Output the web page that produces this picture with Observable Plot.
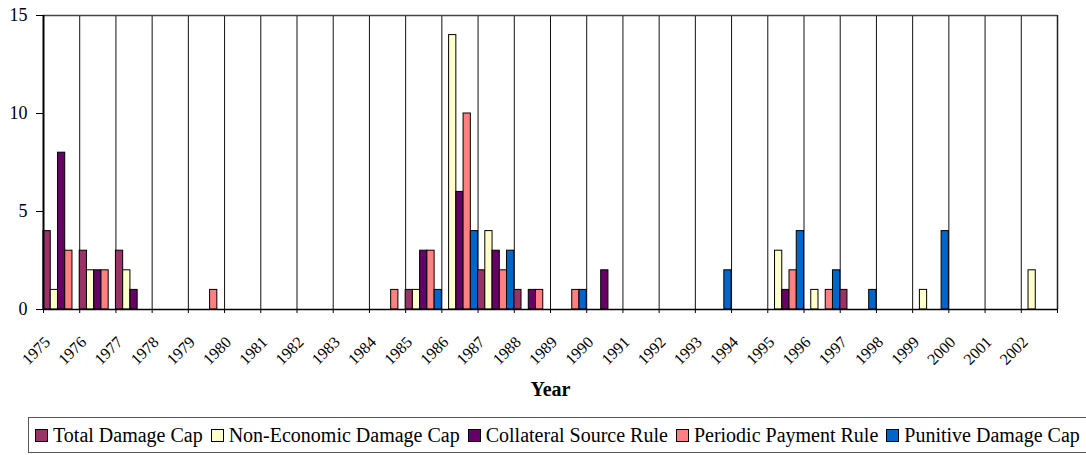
<!DOCTYPE html>
<html>
<head>
<meta charset="utf-8">
<script src="https://cdn.jsdelivr.net/npm/d3@7"></script>
<script src="https://cdn.jsdelivr.net/npm/@observablehq/plot@0.6"></script>
<style>
  body { margin: 0; background: #fff; font-family: 'Liberation Serif', 'Times New Roman', 'DejaVu Serif', serif; }
  #legend {
    margin-left: 28px; margin-top: 5px; width: 1070px; height: 36px;
    border: 1px solid #555; box-sizing: border-box;
    display: flex; align-items: center; padding-left: 6px;
    font-size: 20px; white-space: nowrap; color: #000;
    font-family: 'Liberation Serif', 'Times New Roman', 'DejaVu Serif', serif;
  }
  .item { display: flex; align-items: center; margin-right: 8px; }
  .sw { width: 11px; height: 11px; border: 1px solid #000; margin-right: 5px; }
</style>
</head>
<body>
<div id="chart"></div>
<div id="legend"></div>
<script>
const years = [1975,1976,1977,1978,1979,1980,1981,1982,1983,1984,1985,1986,1987,1988,1989,1990,1991,1992,1993,1994,1995,1996,1997,1998,1999,2000,2001,2002];
const seriesNames = ["Total Damage Cap","Non-Economic Damage Cap","Collateral Source Rule","Periodic Payment Rule","Punitive Damage Cap"];
const seriesColors = ["#993366","#FFFFCC","#660066","#FF8080","#0066CC"];
//                      75 76 77 78 79 80 81 82 83 84 85 86 87 88 89 90 91 92 93 94 95 96 97 98 99 00 01 02
const totalDamageCap  = [4, 3, 3, 0, 0, 0, 0, 0, 0, 0, 1, 0, 2, 1, 0, 0, 0, 0, 0, 0, 0, 0, 1, 0, 0, 0, 0, 0];
const nonEconomicCap  = [1, 2, 2, 0, 0, 0, 0, 0, 0, 0, 1,14, 4, 0, 0, 0, 0, 0, 0, 0, 3, 1, 0, 0, 1, 0, 0, 2];
const collateralRule  = [8, 2, 1, 0, 0, 0, 0, 0, 0, 0, 3, 6, 3, 1, 0, 2, 0, 0, 0, 0, 1, 0, 0, 0, 0, 0, 0, 0];
const periodicPayment = [3, 2, 0, 0, 1, 0, 0, 0, 0, 1, 3,10, 2, 1, 1, 0, 0, 0, 0, 0, 2, 1, 0, 0, 0, 0, 0, 0];
const punitiveCap     = [0, 0, 0, 0, 0, 0, 0, 0, 0, 0, 1, 4, 3, 0, 1, 0, 0, 0, 2, 0, 4, 2, 1, 0, 4, 0, 0, 0];
const yTicks = [0, 5, 10, 15];

const seriesValues = [totalDamageCap, nonEconomicCap, collateralRule, periodicPayment, punitiveCap];
const data = [];
seriesValues.forEach((vals, s) => {
  vals.forEach((v, i) => {
    if (v > 0) data.push({year: years[i], s, series: seriesNames[s], value: v});
  });
});
const boundaries = [...years, years[years.length - 1] + 1];
const font = "'Liberation Serif', 'Times New Roman', 'DejaVu Serif', serif";

const chart = Plot.plot({
  width: 1086,
  height: 412,
  marginLeft: 43,
  marginRight: 29,
  marginTop: 15,
  marginBottom: 103,
  style: {fontFamily: font, background: "#fff", color: "#000"},
  x: {type: "linear", domain: [boundaries[0], boundaries[boundaries.length - 1]]},
  y: {domain: [0, 15]},
  color: {domain: seriesNames, range: seriesColors},
  marks: [
    Plot.ruleX(boundaries.slice(1, -1), {y1: 0, y2: 15, stroke: "#111", strokeWidth: 1}),
    Plot.rectY(data, {
      x1: d => d.year + d.s / 5,
      x2: d => d.year + (d.s + 1) / 5,
      y: "value",
      fill: "series",
      stroke: "#000",
      strokeWidth: 1
    }),
    Plot.ruleY([15], {stroke: "#444", strokeWidth: 1.5}),
    Plot.ruleX([boundaries[boundaries.length - 1]], {y1: 0, y2: 15, stroke: "#222", strokeWidth: 1.5}),
    Plot.ruleX([boundaries[0]], {y1: 0, y2: 15, stroke: "#000", strokeWidth: 2}),
    Plot.ruleY([0], {stroke: "#000", strokeWidth: 1.5}),
    Plot.axisY({ticks: yTicks, tickSize: 7, tickPadding: 9, fontSize: 18, fontFamily: font, label: null, tickFormat: d => String(d)}),
    Plot.axisX({ticks: boundaries, tickSize: 4, tickFormat: () => "", label: null}),
    Plot.text(years, {
      x: d => d, frameAnchor: "bottom", text: d => String(d),
      rotate: -45, textAnchor: "end", lineAnchor: "middle",
      dx: 4, dy: 30, fontSize: 16, fontFamily: font, fill: "#000"
    }),
    Plot.text(["Year"], {frameAnchor: "bottom", dy: 86, fontSize: 20, fontWeight: "bold", fontFamily: font, text: d => d})
  ]
});
document.getElementById("chart").appendChild(chart);

const legend = document.getElementById("legend");
seriesNames.forEach((name, i) => {
  const item = document.createElement("div");
  item.className = "item";
  const sw = document.createElement("div");
  sw.className = "sw";
  sw.style.background = seriesColors[i];
  item.appendChild(sw);
  const t = document.createElement("span");
  t.textContent = name;
  item.appendChild(t);
  legend.appendChild(item);
});
</script>
</body>
</html>
